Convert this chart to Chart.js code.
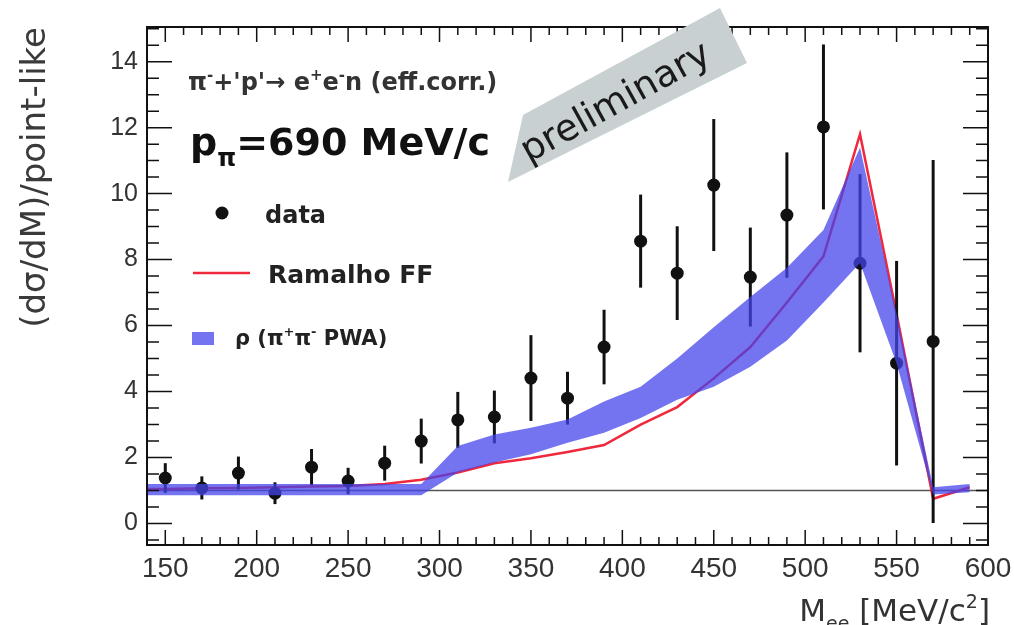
<!DOCTYPE html>
<html>
<head>
<meta charset="utf-8">
<script src="https://cdn.jsdelivr.net/npm/chart.js@4"></script>
<style>
  html, body { margin: 0; padding: 0; background: #fff; }
</style>
</head>
<body>
<canvas id="myChart" width="1014" height="625"></canvas>
<script>
const FONT = '"Liberation Sans", Arial, Helvetica, sans-serif';
const WIDE = '"DejaVu Sans", Verdana, sans-serif';

// measured cross section ratio, 20 MeV bins
const dataMass = [150, 170, 190, 210, 230, 250, 270, 290, 310, 330, 350, 370, 390, 410, 430, 450, 470, 490, 510, 530, 550, 570];
const dataVal = [1.38, 1.08, 1.53, 0.92, 1.71, 1.29, 1.83, 2.50, 3.14, 3.23, 4.41, 3.80, 5.35, 8.56, 7.59, 10.26, 7.47, 9.35, 12.02, 7.89, 4.86, 5.52];
const dataErr = [0.45, 0.35, 0.50, 0.33, 0.55, 0.40, 0.53, 0.68, 0.85, 0.80, 1.30, 0.80, 1.13, 1.41, 1.42, 2.00, 1.50, 1.90, 2.50, 2.70, 3.10, 5.50];

// model curves (first entry sits on the left edge of the frame)
const modelMass = [140, 150, 170, 190, 210, 230, 250, 270, 290, 310, 330, 350, 370, 390, 410, 430, 450, 470, 490, 510, 530, 550, 570, 590];
const ramalhoFF = [1.05, 1.05, 1.07, 1.08, 1.10, 1.12, 1.14, 1.20, 1.33, 1.55, 1.83, 1.98, 2.17, 2.38, 3.00, 3.53, 4.40, 5.35, 6.70, 8.10, 11.80, 6.35, 0.75, 1.10];
const pwaLow = [0.86, 0.86, 0.86, 0.86, 0.86, 0.86, 0.86, 0.86, 0.86, 1.55, 1.85, 2.10, 2.45, 2.75, 3.20, 3.75, 4.15, 4.75, 5.55, 6.70, 7.90, 4.85, 0.88, 0.95];
const pwaHigh = [1.20, 1.20, 1.20, 1.20, 1.20, 1.20, 1.20, 1.20, 1.20, 2.35, 2.70, 2.90, 3.15, 3.70, 4.15, 5.00, 5.95, 6.87, 7.75, 8.90, 11.40, 6.35, 1.10, 1.20];

const xTickValues = [150, 200, 250, 300, 350, 400, 450, 500, 550, 600];
const yTickValues = [0, 2, 4, 6, 8, 10, 12, 14];

const BAND = 'rgba(68, 68, 236, 0.74)';
const RED = '#f0283c';

function xy(xs, ys) {
    return xs.map((x, i) => ({ x: x, y: ys[i] }));
}

// text with ROOT style sub/superscripts: parts = [[text, 'n' | 'sup' | 'sub'], ...]
function richText(ctx, parts, x, y, size, weight, family, align) {
    const base = weight + ' ' + size + 'px ' + family;
    const small = weight + ' ' + Math.round(size * 0.62) + 'px ' + family;
    let w = 0;
    for (const [t, m] of parts) {
        ctx.font = m === 'n' ? base : small;
        w += ctx.measureText(t).width;
    }
    let cx = align === 'right' ? x - w : x;
    ctx.textAlign = 'left';
    ctx.textBaseline = 'alphabetic';
    for (const [t, m] of parts) {
        ctx.font = m === 'n' ? base : small;
        const dy = m === 'sup' ? -size * 0.42 : (m === 'sub' ? size * 0.3 : 0);
        ctx.fillText(t, cx, y + dy);
        cx += ctx.measureText(t).width;
    }
}

const errorBars = {
    id: 'errorBars',
    beforeDatasetDraw(chart, args) {
        if (args.index !== 0) return;
        const { ctx, scales: { x, y } } = chart;
        ctx.save();
        ctx.strokeStyle = '#111';
        ctx.lineWidth = 3;
        dataMass.forEach((m, i) => {
            const px = x.getPixelForValue(m);
            ctx.beginPath();
            ctx.moveTo(px, y.getPixelForValue(dataVal[i] - dataErr[i]));
            ctx.lineTo(px, y.getPixelForValue(dataVal[i] + dataErr[i]));
            ctx.stroke();
        });
        ctx.restore();
    }
};

const rootFrame = {
    id: 'rootFrame',
    beforeDatasetsDraw(chart) {
        // reference line at ratio = 1
        const { ctx, chartArea: a, scales: { y } } = chart;
        const py = y.getPixelForValue(1);
        ctx.save();
        ctx.strokeStyle = '#555';
        ctx.lineWidth = 1.5;
        ctx.beginPath();
        ctx.moveTo(a.left, py);
        ctx.lineTo(a.right, py);
        ctx.stroke();
        ctx.restore();
    },
    afterDraw(chart) {
        const { ctx, chartArea: a, scales: { x, y } } = chart;
        ctx.save();

        // frame with inward ticks on all four sides
        ctx.strokeStyle = '#111';
        ctx.lineWidth = 2;
        ctx.strokeRect(a.left, a.top, a.right - a.left, a.bottom - a.top);
        ctx.lineWidth = 1.5;
        ctx.beginPath();
        for (let v = 140; v <= 600; v += 10) {
            const px = x.getPixelForValue(v);
            const len = v % 50 === 0 ? 15 : 8;
            ctx.moveTo(px, a.bottom); ctx.lineTo(px, a.bottom - len);
            ctx.moveTo(px, a.top); ctx.lineTo(px, a.top + len);
        }
        for (let k = -1; k <= 30; k++) {
            const v = k * 0.5;
            const py = y.getPixelForValue(v);
            const len = k % 4 === 0 ? 25 : 12;
            ctx.moveTo(a.left, py); ctx.lineTo(a.left + len, py);
            ctx.moveTo(a.right, py); ctx.lineTo(a.right - len, py);
        }
        ctx.stroke();

        // reaction and beam momentum
        ctx.fillStyle = '#333';
        richText(ctx, [['π', 'n'], ['-', 'sup'], ["+'p'\u2192 e", 'n'], ['+', 'sup'], ['e', 'n'], ['-', 'sup'], ['n (eff.corr.)', 'n']], 188, 90, 24, 'bold', WIDE);
        ctx.fillStyle = '#111';
        richText(ctx, [['p', 'n'], ['π', 'sub'], ['=690 MeV/c', 'n']], 190, 155, 38, 'bold', WIDE);

        // legend
        ctx.fillStyle = '#111';
        ctx.beginPath();
        ctx.arc(222, 213, 6.5, 0, Math.PI * 2);
        ctx.fill();
        ctx.fillStyle = '#222';
        richText(ctx, [['data', 'n']], 265, 223, 24, 'bold', WIDE);
        ctx.strokeStyle = RED;
        ctx.lineWidth = 2.5;
        ctx.beginPath();
        ctx.moveTo(193, 273);
        ctx.lineTo(250, 273);
        ctx.stroke();
        richText(ctx, [['Ramalho FF', 'n']], 268, 283, 25, 'bold', WIDE);
        ctx.fillStyle = BAND;
        ctx.fillRect(192, 332, 22, 13);
        ctx.fillStyle = '#222';
        richText(ctx, [['ρ (π', 'n'], ['+', 'sup'], ['π', 'n'], ['-', 'sup'], [' PWA)', 'n']], 235, 345, 21, 'bold', WIDE);

        // x axis title
        ctx.fillStyle = '#333';
        richText(ctx, [['M', 'n'], ['ee', 'sub'], [' [MeV/c', 'n'], ['2', 'sup'], [']', 'n']], 990, 621, 31, 'normal', WIDE, 'right');

        // preliminary stamp
        ctx.fillStyle = '#c9d0d1';
        ctx.beginPath();
        ctx.moveTo(523, 115);
        ctx.lineTo(720, 8);
        ctx.lineTo(747, 63);
        ctx.lineTo(508, 182);
        ctx.closePath();
        ctx.fill();
        ctx.translate(621, 112);
        ctx.rotate(-29 * Math.PI / 180);
        ctx.fillStyle = '#1a1a1a';
        ctx.font = '37px ' + WIDE;
        ctx.textAlign = 'center';
        ctx.textBaseline = 'alphabetic';
        ctx.fillText('preliminary', 0, 0);
        ctx.restore();
    }
};

const ctx = document.getElementById('myChart').getContext('2d');

const myChart = new Chart(ctx, {
    type: 'line',
    data: {
        datasets: [
            {
                label: 'data',
                data: xy(dataMass, dataVal),
                showLine: false,
                pointRadius: 6.5,
                pointBackgroundColor: '#111',
                pointBorderWidth: 0,
                order: 2
            },
            {
                label: 'Ramalho FF',
                data: xy(modelMass, ramalhoFF),
                borderColor: RED,
                borderWidth: 2.5,
                pointRadius: 0,
                tension: 0,
                fill: false,
                order: 3
            },
            {
                label: 'PWA low',
                data: xy(modelMass, pwaLow),
                borderWidth: 0,
                borderColor: 'rgba(0,0,0,0)',
                pointRadius: 0,
                fill: false,
                order: 1
            },
            {
                label: 'ρ (π+π- PWA)',
                data: xy(modelMass, pwaHigh),
                borderWidth: 0,
                borderColor: 'rgba(0,0,0,0)',
                backgroundColor: BAND,
                pointRadius: 0,
                fill: '-1',
                order: 0
            }
        ]
    },
    options: {
        responsive: false,
        devicePixelRatio: 1,
        animation: false,
        layout: { padding: { top: 27, right: 26, left: 0, bottom: 0 } },
        plugins: {
            legend: { display: false },
            tooltip: { enabled: false }
        },
        scales: {
            x: {
                type: 'linear',
                min: 140,
                max: 600,
                afterBuildTicks: (s) => { s.ticks = xTickValues.map(v => ({ value: v })); },
                afterFit: (s) => { s.height = 80; s.paddingLeft = 0; s.paddingRight = 0; },
                grid: { display: false, drawTicks: false },
                border: { display: false },
                ticks: {
                    autoSkip: false,
                    maxRotation: 0,
                    padding: 7,
                    color: '#333',
                    font: { family: FONT, size: 28 }
                }
            },
            y: {
                type: 'linear',
                min: -0.65,
                max: 15.05,
                afterBuildTicks: (s) => { s.ticks = yTickValues.map(v => ({ value: v })); },
                afterFit: (s) => { s.width = 147; },
                grid: { display: false, drawTicks: false },
                border: { display: false },
                ticks: {
                    padding: 9,
                    color: '#333',
                    font: { family: FONT, size: 25 }
                },
                title: {
                    display: true,
                    text: '(dσ/dM)/point-like',
                    align: 'end',
                    color: '#3a3a3a',
                    padding: { top: 16, bottom: 0 },
                    font: { family: WIDE, size: 34 }
                }
            }
        }
    },
    plugins: [errorBars, rootFrame]
});
</script>
</body>
</html>
